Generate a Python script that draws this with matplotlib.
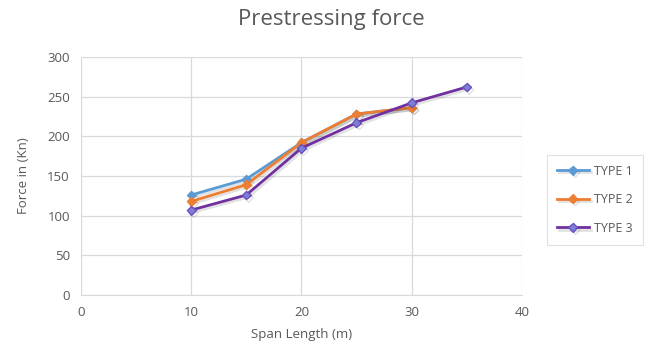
import matplotlib.pyplot as plt
import matplotlib.patheffects as pe

# span length (m) against prestressing force (kN) for three section types
span_t1 = [10, 15, 20, 25, 30]
force_t1 = [126, 146, 192, 228, 236]
span_t2 = [10, 15, 20, 25, 30]
force_t2 = [118, 139, 192, 228, 236]
span_t3 = [10, 15, 20, 25, 30, 35]
force_t3 = [107, 126, 185, 217, 242, 262]

plt.rcParams['font.family'] = ['Open Sans', 'DejaVu Sans']
grey = '#595959'

fig = plt.figure(figsize=(6.69, 3.53), dpi=100)
ax = fig.add_axes([0.121, 0.164, 0.659, 0.675])

shadow = [pe.SimpleLineShadow(offset=(1.5, -1.5), alpha=0.15, shadow_color='#404040'), pe.Normal()]

ax.plot(span_t1, force_t1, color='#5B9BD5', lw=2.0, marker='D', ms=4.5,
        mfc='#5B9BD5', mec='#5B9BD5', label='TYPE 1', path_effects=shadow)
ax.plot(span_t2, force_t2, color='#ED7D31', lw=2.0, marker='D', ms=4.5,
        mfc='#ED7D31', mec='#ED7D31', label='TYPE 2', path_effects=shadow)
ax.plot(span_t3, force_t3, color='#7030A0', lw=2.0, marker='D', ms=4.5,
        mfc='#7B7FD6', mec='#6A4FC0', label='TYPE 3', path_effects=shadow)

ax.set_xlim(0, 40)
ax.set_ylim(0, 300)
ax.set_xticks([0, 10, 20, 30, 40])
ax.set_yticks(range(0, 301, 50))
ax.grid(True, color='#D9D9D9', lw=0.9)
ax.set_axisbelow(True)
for s in ax.spines.values():
    s.set_visible(False)
ax.spines['bottom'].set_visible(True)
ax.spines['bottom'].set_color('#D9D9D9')
ax.tick_params(length=0, labelsize=9.5, colors=grey, pad=8)

ax.set_xlabel('Span Length (m)', fontsize=9.5, color=grey, labelpad=6)
ax.set_ylabel('Force in (Kn)', fontsize=9.5, color=grey, labelpad=12)
fig.suptitle('Prestressing force', fontsize=16, color=grey, x=0.495, y=0.975)

leg = fig.legend(loc='upper left', bbox_to_anchor=(0.817, 0.562), fontsize=9,
                 frameon=True, fancybox=False, edgecolor='#D9D9D9',
                 labelcolor=grey, handlelength=2.6, handletextpad=0.4,
                 labelspacing=1.25, borderpad=0.8, borderaxespad=0)
leg.get_frame().set_linewidth(0.8)

fig.savefig('out.png', dpi=100)
